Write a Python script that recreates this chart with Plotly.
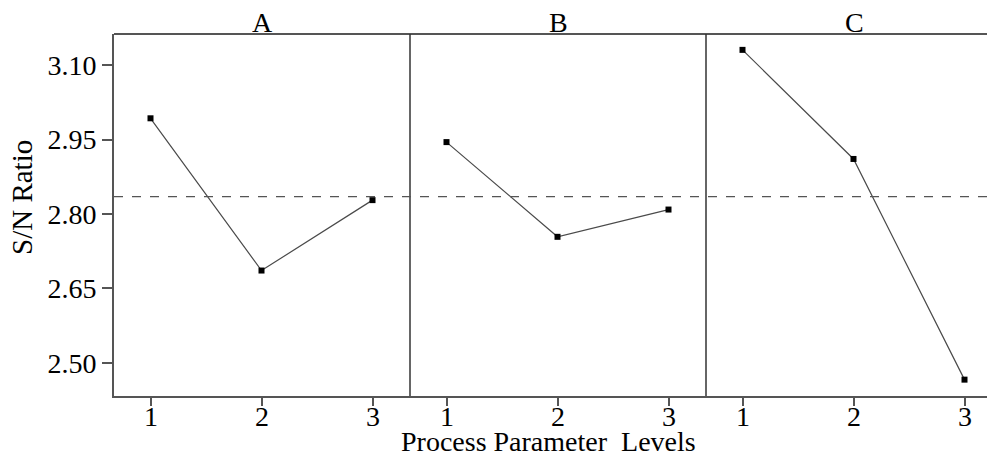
import plotly.graph_objects as go

panels = ["A", "B", "C"]
levels = [1, 2, 3]
sn_A = [2.993, 2.686, 2.828]
sn_B = [2.945, 2.754, 2.809]
sn_C = [3.131, 2.911, 2.466]
mean_sn = 2.835
y_ticks = [2.50, 2.65, 2.80, 2.95, 3.10]
y_tick_labels = ["2.50", "2.65", "2.80", "2.95", "3.10"]
x_tick_labels = ["1", "2", "3"]

# the page body has an 8px margin, so figure coords = window coords - 8
OFF = 8
W, H = 995 - OFF, 459 - OFF
L, T = 114 - OFF, 34 - OFF
PB = 396 - OFF          # plot bottom in figure px
B = H - PB
R = 0
pw = W - L - R
ph = PB - T
panel_px = 296
px_per_unit = 111.0
x0 = 1 - 36.5 / px_per_unit

FONT = "Liberation Serif"
FS = 28
frame = "#555555"

fig = go.Figure()
series = [sn_A, sn_B, sn_C]
for i, (name, vals) in enumerate(zip(panels, series)):
    ax = "" if i == 0 else str(i + 1)
    fig.add_trace(go.Scatter(
        x=levels, y=vals, mode="lines+markers",
        xaxis="x" + ax, yaxis="y",
        line=dict(color="#4a4a4a", width=1.2),
        marker=dict(symbol="square", size=6, color="black"),
        showlegend=False, hoverinfo="x+y"))

layout = dict(
    width=W, height=H,
    margin=dict(l=L, r=R, t=T, b=B, autoexpand=False),
    plot_bgcolor="white", paper_bgcolor="white",
    font=dict(family=FONT, size=FS, color="black"),
    yaxis=dict(range=[2.433, 3.163], tickvals=y_ticks, ticktext=y_tick_labels,
               ticks="outside", ticklen=10, tickcolor=frame, tickwidth=1.5,
               showline=True, linecolor=frame, linewidth=2,
               showgrid=False, zeroline=False, anchor="x",
               tickfont=dict(family=FONT, size=FS)),
)
xaxis_keys = []
for i in range(3):
    d0 = i * panel_px / pw
    d1 = min(1.0, (i + 1) * panel_px / pw)
    width_px = (d1 - d0) * pw
    key = "xaxis" if i == 0 else "xaxis%d" % (i + 1)
    xaxis_keys.append("x" if i == 0 else "x%d" % (i + 1))
    layout[key] = dict(
        domain=[d0, d1], range=[x0, x0 + width_px / px_per_unit],
        tickvals=levels, showticklabels=False,
        ticks="outside", ticklen=8, tickcolor=frame, tickwidth=1.5,
        showline=True, linecolor=frame, linewidth=2,
        showgrid=False, zeroline=False, anchor="y")
fig.update_layout(**layout)

shapes = []
shapes.append(dict(type="line", xref="paper", yref="paper", x0=0, x1=1, y0=1, y1=1,
                   line=dict(color=frame, width=2)))
for i in (1, 2):
    xp = i * panel_px / pw
    shapes.append(dict(type="line", xref="paper", yref="paper", x0=xp, x1=xp, y0=0, y1=1,
                       line=dict(color="#333333", width=1.5)))
shapes.append(dict(type="line", xref="paper", yref="y", x0=0, x1=1, y0=mean_sn, y1=mean_sn,
                   line=dict(color="#555555", width=1.2, dash="dash")))
fig.update_layout(shapes=shapes)

ann = []
# x tick labels, placed at the level values through each panel's axis
for xr in xaxis_keys:
    for lv, lab in zip(levels, x_tick_labels):
        ann.append(dict(text=lab, x=lv, y=0, xref=xr, yref="paper",
                        xanchor="center", yanchor="middle", yshift=-20,
                        height=20, valign="middle",
                        showarrow=False, font=dict(family=FONT, size=FS)))
for i, name in enumerate(panels):
    xc = (i + 0.5) * panel_px / pw
    ann.append(dict(text=name, x=xc, y=1, xref="paper", yref="paper",
                    xanchor="center", yanchor="middle", yshift=T - 13.5, showarrow=False,
                    height=22, valign="middle",
                    font=dict(family=FONT, size=FS)))
ann.append(dict(text="Process Parameter&nbsp;&nbsp;Levels", x=(548 - OFF - L) / pw, y=0,
                xref="paper", yref="paper", xanchor="center", yanchor="middle",
                yshift=-(441 - OFF - PB), height=22, valign="middle",
                showarrow=False, font=dict(family=FONT, size=FS)))
ann.append(dict(text="S/N Ratio", x=(21.5 - OFF - L) / pw, y=(PB - (197.5 - OFF)) / ph,
                xref="paper", yref="paper", xanchor="center", yanchor="middle",
                textangle=-90, height=24, valign="middle",
                showarrow=False, font=dict(family=FONT, size=29)))
fig.update_layout(annotations=ann)

fig.write_html("out.html")
